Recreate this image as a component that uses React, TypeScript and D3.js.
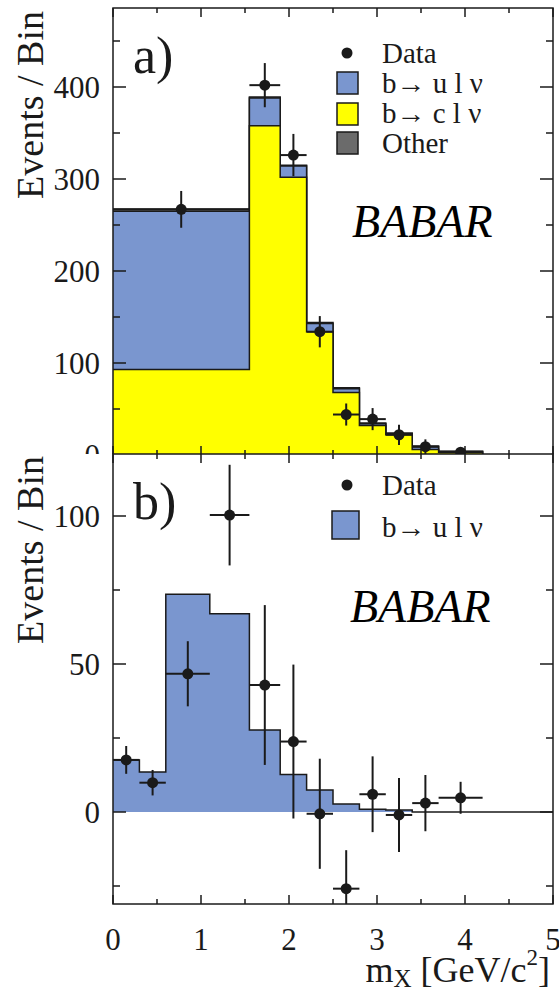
import React from "react";
import * as d3 from "d3";

// panel a) : bin edges in m_X [GeV/c^2]
const edgesA = [0, 1.55, 1.9, 2.2, 2.5, 2.8, 3.1, 3.4, 3.7, 4.2];
const bclA = [93, 358, 302, 134, 68, 32, 22, 6, 3];
const bulA = [172, 30, 12, 9, 4, 2, 1, 3, 0.7];
const otherA = [2, 1, 1, 1, 1, 0.8, 0.8, 0.8, 0.5];
const dataA = [267, 402, 326, 134, 44, 39, 22, 9, 3];
const errA = [20, 24, 23, 17, 12, 12, 11, 8, 5];

// panel b) : background subtracted
const edgesB = [0, 0.3, 0.6, 1.1, 1.55, 1.9, 2.2, 2.5, 2.8, 3.1, 3.4, 3.7, 4.2, 5];
const bulB = [17.6, 13.5, 73.6, 67, 27.7, 12.7, 7.4, 2.7, 0.9, 0.7, 0, 0, 0];
const dataB = [17.6, 9.9, 46.7, 100.3, 42.9, 23.8, -0.6, -25.9, 6, -1, 3, 4.8];
const errB = [4.7, 4.3, 11, 17, 27, 26, 18.6, 13, 12.8, 12.5, 9.5, 5.4];

const xTicks = [0, 1, 2, 3, 4, 5];
const yTicksA = [100, 200, 300, 400];
const yTicksB = [0, 50, 100];

const BLUE = "#7a96cf";
const YELLOW = "#ffff00";
const GREY = "#6b6b6b";
const INK = "#1a1a1a";
const FONT = "'Liberation Serif', 'Times New Roman', serif";

const W = 559;
const H = 995;
const left = 113;
const right = 553;

const x = d3.scaleLinear().domain([0, 5]).range([left, right]);

function stepPoints(edges: number[], vals: number[]): [number, number][] {
	const pts: [number, number][] = vals.map((v, i) => [edges[i], v]);
	pts.push([edges[vals.length], vals[vals.length - 1]]);
	return pts;
}

interface PanelProps {
	top: number;
	bottom: number;
	y: d3.ScaleLinear<number, number>;
	majorY: number[];
	minorStep: number;
}

function Frame({ top, bottom, y, majorY, minorStep }: PanelProps) {
	const [lo, hi] = [y.invert(bottom), y.invert(top)];
	const minorY = d3.range(Math.ceil(lo / minorStep) * minorStep, hi, minorStep);
	const minorX = d3.range(0, 5.01, 0.5);
	return (
		<g stroke={INK} strokeWidth={1.5}>
			<rect x={left} y={top} width={right - left} height={bottom - top} fill="none" />
			{minorX.map((t) => {
				const len = Number.isInteger(t) ? 9 : 5;
				return (
					<g key={"x" + t}>
						<line x1={x(t)} x2={x(t)} y1={bottom} y2={bottom - len} />
						<line x1={x(t)} x2={x(t)} y1={top} y2={top + len} />
					</g>
				);
			})}
			{minorY.map((t) => {
				const len = majorY.includes(t) ? 13 : 7;
				return (
					<g key={"y" + t}>
						<line x1={left} x2={left + len} y1={y(t)} y2={y(t)} />
						<line x1={right} x2={right - len} y1={y(t)} y2={y(t)} />
					</g>
				);
			})}
		</g>
	);
}

function DataPoints({ edges, vals, errs, y }: { edges: number[]; vals: number[]; errs: number[]; y: d3.ScaleLinear<number, number> }) {
	return (
		<g stroke={INK} strokeWidth={2} fill={INK}>
			{vals.map((v, i) => {
				const cx = x((edges[i] + edges[i + 1]) / 2);
				return (
					<g key={i}>
						<line x1={x(edges[i])} x2={x(edges[i + 1])} y1={y(v)} y2={y(v)} />
						<line x1={cx} x2={cx} y1={y(v - errs[i])} y2={y(v + errs[i])} />
						<circle cx={cx} cy={y(v)} r={5.5} stroke="none" />
					</g>
				);
			})}
		</g>
	);
}

export default function App() {
	// ---- panel a
	const topA = 8;
	const bottomA = 455;
	const yA = d3.scaleLinear().domain([0, 400]).range([455, 87]);
	const cumC = bclA;
	const cumU = bclA.map((v, i) => v + bulA[i]);
	const cumAll = cumU.map((v, i) => v + otherA[i]);

	const areaA = d3
		.area<[number, number]>()
		.curve(d3.curveStepAfter)
		.x((d) => x(d[0]))
		.y0(yA(0))
		.y1((d) => yA(d[1]));
	const lineA = d3
		.line<[number, number]>()
		.curve(d3.curveStepAfter)
		.x((d) => x(d[0]))
		.y((d) => yA(d[1]));

	// stacked: drawn from the full sum down to b->c
	const layersA = [
		{ vals: cumAll, color: GREY },
		{ vals: cumU, color: BLUE },
		{ vals: cumC, color: YELLOW },
	];

	// ---- panel b
	const topB = 454;
	const bottomB = 904;
	const yB = d3.scaleLinear().domain([0, 100]).range([812, 516]);
	const ptsB = stepPoints(edgesB, bulB);
	const areaB = d3
		.area<[number, number]>()
		.curve(d3.curveStepAfter)
		.x((d) => x(d[0]))
		.y0(yB(0))
		.y1((d) => yB(d[1]));
	const lineB = d3
		.line<[number, number]>()
		.curve(d3.curveStepAfter)
		.x((d) => x(d[0]))
		.y((d) => yB(d[1]));

	return (
		<svg
			width={W}
			height={H}
			style={{ position: "absolute", left: 0, top: 0, background: "#fff" }}
			fontFamily={FONT}
		>
			<defs>
				<clipPath id="clipA">
					<rect x={left} y={topA} width={right - left} height={bottomA - topA} />
				</clipPath>
				<clipPath id="clipB">
					<rect x={left} y={topB} width={right - left} height={bottomB - topB} />
				</clipPath>
			</defs>

			{/* ===== panel a ===== */}
			<g clipPath="url(#clipA)">
				{layersA.map((l, k) => {
					const pts = stepPoints(edgesA, l.vals);
					return (
						<g key={k}>
							<path d={areaA(pts) || undefined} fill={l.color} />
							<path
								d={lineA([...pts, [edgesA[edgesA.length - 1], 0]]) || undefined}
								fill="none"
								stroke={INK}
								strokeWidth={1.5}
							/>
						</g>
					);
				})}
				<DataPoints edges={edgesA} vals={dataA} errs={errA} y={yA} />
			</g>
			<Frame top={topA} bottom={bottomA} y={yA} majorY={[0, ...yTicksA]} minorStep={50} />
			{[0, ...yTicksA].map((t) => (
				<text key={t} x={100} y={yA(t)} dy="0.35em" textAnchor="end" fontSize={31} fill={INK}>
					{t}
				</text>
			))}
			<text transform="translate(43, 105) rotate(-90)" textAnchor="middle" fontSize={38} fill={INK}>
				Events / Bin
			</text>
			<text x={133} y={73} fontSize={52} fill={INK}>a)</text>
			<text x={352} y={237} fontSize={46} fontStyle="italic" fill="#000">BABAR</text>

			{/* legend a */}
			<g fontSize={29} fill={INK}>
				<circle cx={347} cy={53} r={5.5} fill={INK} />
				<text x={382} y={63}>Data</text>
				<rect x={337} y={72} width={21} height={22} fill={BLUE} stroke={INK} strokeWidth={1.5} />
				<text x={382} y={93}>b→ u l ν</text>
				<rect x={337} y={103} width={21} height={22} fill={YELLOW} stroke={INK} strokeWidth={1.5} />
				<text x={382} y={123}>b→ c l ν</text>
				<rect x={337} y={132} width={21} height={22} fill={GREY} stroke={INK} strokeWidth={1.5} />
				<text x={382} y={153}>Other</text>
			</g>

			{/* ===== panel b (covers bottom of panel a) ===== */}
			<rect x={0} y={topB} width={W} height={H - topB} fill="#fff" />
			<g clipPath="url(#clipB)">
				<path d={areaB(ptsB) || undefined} fill={BLUE} />
				<path d={lineB(ptsB) || undefined} fill="none" stroke={INK} strokeWidth={1.5} />
				<DataPoints edges={edgesB} vals={dataB} errs={errB} y={yB} />
			</g>
			<Frame top={topB} bottom={bottomB} y={yB} majorY={yTicksB} minorStep={25} />
			{yTicksB.map((t) => (
				<text key={t} x={100} y={yB(t)} dy="0.35em" textAnchor="end" fontSize={31} fill={INK}>
					{t}
				</text>
			))}
			{xTicks.map((t) => (
				<text key={t} x={x(t)} y={950} textAnchor="middle" fontSize={31} fill={INK}>
					{t}
				</text>
			))}
			<text transform="translate(43, 550) rotate(-90)" textAnchor="middle" fontSize={38} fill={INK}>
				Events / Bin
			</text>
			<text x={133} y={519} fontSize={52} fill={INK}>b)</text>
			<text x={350} y={622} fontSize={46} fontStyle="italic" fill="#000">BABAR</text>

			{/* legend b */}
			<g fontSize={29} fill={INK}>
				<circle cx={347} cy={485} r={5.5} fill={INK} />
				<text x={382} y={495}>Data</text>
				<rect x={332} y={511} width={27} height={28} fill={BLUE} stroke={INK} strokeWidth={1.5} />
				<text x={382} y={537}>b→ u l ν</text>
			</g>

			{/* x axis title */}
			<text x={550} y={982} textAnchor="end" fontSize={36} fill={INK}>
				m<tspan fontSize={25} dy={5}>X</tspan>
				<tspan dy={-5}> [GeV/c</tspan>
				<tspan fontSize={23} dy={-17}>2</tspan>
				<tspan dy={17}>]</tspan>
			</text>
		</svg>
	);
}
